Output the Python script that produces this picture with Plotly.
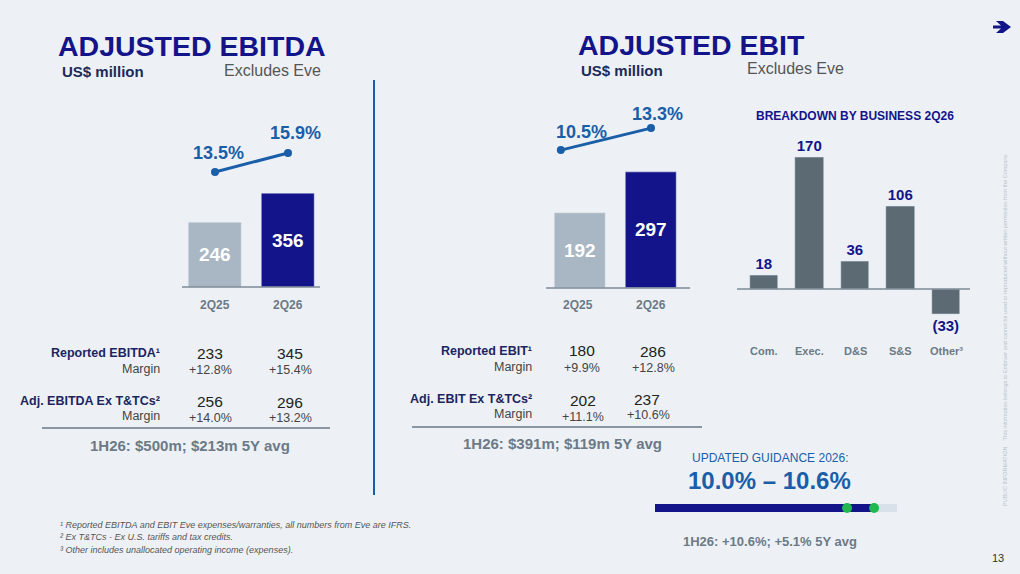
import plotly.graph_objects as go

W, H = 1020, 574
NAVY = "#14148a"; BLUE = "#1a5ea8"; GRAY = "#6b7a86"; LIGHT = "#a9b6c3"; BG = "#edf1f6"; LBL = "#1c2560"

quarters = ["2Q25", "2Q26"]
ebitda = [246, 356]
ebitda_margin = [13.5, 15.9]
ebit = [192, 297]
ebit_margin = [10.5, 13.3]
biz = ["Com.", "Exec.", "D&S", "S&S", "Other³"]
biz_vals = [18, 170, 36, 106, -33]
guid_low, guid_high, h1_26 = 10.0, 10.6, 10.6

def px(x): return x / W
def py(y): return 1 - y / H

fig = go.Figure()
fig.add_bar(x=[0, 1], y=ebitda, width=0.73, marker_color=[LIGHT, NAVY], text=[f"<b>{v}</b>" for v in ebitda],
            textposition="inside", insidetextanchor="middle",
            textfont=dict(color="white", size=19, family="Liberation Sans"), xaxis="x", yaxis="y")
fig.add_scatter(x=[0, 1], y=ebitda_margin, mode="lines+markers", line=dict(color=BLUE, width=3),
                marker=dict(size=8, color=BLUE), xaxis="x2", yaxis="y2")
fig.add_bar(x=[0, 1], y=ebit, width=0.73, marker_color=[LIGHT, NAVY], text=[f"<b>{v}</b>" for v in ebit],
            textposition="inside", insidetextanchor="middle",
            textfont=dict(color="white", size=19, family="Liberation Sans"), xaxis="x3", yaxis="y3")
fig.add_scatter(x=[-0.27, 1], y=ebit_margin, mode="lines+markers", line=dict(color=BLUE, width=3),
                marker=dict(size=8, color=BLUE), xaxis="x4", yaxis="y4")
fig.add_bar(x=list(range(5)), y=biz_vals, width=0.62, marker_color="#5b6a73",
            text=[f"<b>({-v})</b>" if v < 0 else f"<b>{v}</b>" for v in biz_vals], textposition="outside",
            cliponaxis=False, textfont=dict(color=NAVY, size=15, family="Liberation Sans"),
            xaxis="x5", yaxis="y5")
fig.add_scatter(x=[5.73, 11.11], y=[0, 0], mode="lines", line=dict(color="#d8e0ea", width=8), xaxis="x6", yaxis="y6")
fig.add_scatter(x=[5.73, h1_26], y=[0, 0], mode="lines", line=dict(color=NAVY, width=8), xaxis="x6", yaxis="y6")
fig.add_scatter(x=[guid_low, guid_high], y=[0, 0], mode="markers", marker=dict(color="#1fb94f", size=10),
                xaxis="x6", yaxis="y6")

ax = dict(visible=False, fixedrange=True)
fig.update_layout(
    width=W, height=H, margin=dict(l=0, r=0, t=0, b=0), showlegend=False,
    paper_bgcolor=BG, plot_bgcolor="rgba(0,0,0,0)", bargap=0,
    font=dict(family="Liberation Sans", color="#333"),
    xaxis=dict(domain=[px(178.5), px(324.5)], range=[-0.5, 1.5], anchor="y", **ax),
    yaxis=dict(domain=[py(287), py(181.4)], range=[0, 400], anchor="x", **ax),
    xaxis2=dict(domain=[px(178.5), px(324.5)], range=[-0.5, 1.5], anchor="y2", **ax),
    yaxis2=dict(domain=[py(200), py(140)], range=[9.965, 17.54], anchor="x2", **ax),
    xaxis3=dict(domain=[px(544.5), px(686.5)], range=[-0.5, 1.5], anchor="y3", **ax),
    yaxis3=dict(domain=[py(288), py(159.1)], range=[0, 330], anchor="x3", **ax),
    xaxis4=dict(domain=[px(544.5), px(686.5)], range=[-0.5, 1.5], anchor="y4", **ax),
    yaxis4=dict(domain=[py(180), py(110)], range=[6.7, 15.6], anchor="x4", **ax),
    xaxis5=dict(domain=[px(741), px(969)], range=[-0.5, 4.5], anchor="y5", **ax),
    yaxis5=dict(domain=[py(320), py(145.3)], range=[-40, 185], anchor="x5", **ax),
    xaxis6=dict(domain=[px(655), px(897)], range=[5.73, 11.11], anchor="y6", **ax),
    yaxis6=dict(domain=[py(518), py(498)], range=[-1, 1], anchor="x6", **ax),
)

shapes = [
    dict(type="line", xref="paper", yref="paper", x0=px(374), x1=px(374), y0=py(80), y1=py(495), line=dict(color=BLUE, width=2)),
    dict(type="line", xref="paper", yref="paper", x0=px(182), x1=px(320), y0=py(287), y1=py(287), line=dict(color="#7d8a96", width=1.5)),
    dict(type="line", xref="paper", yref="paper", x0=px(546), x1=px(690), y0=py(288), y1=py(288), line=dict(color="#7d8a96", width=1.5)),
    dict(type="line", xref="paper", yref="paper", x0=px(737), x1=px(970), y0=py(289), y1=py(289), line=dict(color="#7d8a96", width=1.5)),
    dict(type="line", xref="paper", yref="paper", x0=px(42), x1=px(330), y0=py(428), y1=py(428), line=dict(color="#8a96a2", width=2)),
    dict(type="line", xref="paper", yref="paper", x0=px(412), x1=px(702), y0=py(427), y1=py(427), line=dict(color="#8a96a2", width=2)),
    dict(type="path", xref="paper", yref="paper",
         path=f"M {px(996)} {py(21)} L {px(1003)} {py(21)} L {px(1011)} {py(27)} L {px(1003)} {py(33)} L {px(996)} {py(33)} L {px(1001)} {py(28.5)} L {px(993)} {py(28.5)} L {px(993)} {py(25.5)} L {px(1001)} {py(25.5)} Z",
         fillcolor=NAVY, line=dict(width=0)),
]
fig.update_layout(shapes=shapes)

def T(x, y, text, size=12, color="#333", bold=False, anchor="center", italic=False, angle=0, family="Liberation Sans"):
    t = f"<b>{text}</b>" if bold else text
    if italic: t = f"<i>{t}</i>"
    fig.add_annotation(x=px(x), y=py(y), xref="paper", yref="paper", text=t, showarrow=False,
                       xanchor=anchor, yanchor="middle", textangle=angle,
                       font=dict(size=size, color=color, family=family))

T(56, 46, "ADJUSTED EBITDA", 28.5, NAVY, True, "left")
T(60, 72, "US$ million", 15, "#1c2a5a", True, "left")
T(222, 70, "Excludes Eve", 16, "#555", False, "left")
T(576, 45, "ADJUSTED EBIT", 28.5, NAVY, True, "left")
T(579, 70, "US$ million", 15, "#1c2a5a", True, "left")
T(745, 68, "Excludes Eve", 16, "#555", False, "left")

T(218, 153, f"{ebitda_margin[0]}%", 18, BLUE, True)
T(295, 133, f"{ebitda_margin[1]}%", 18, BLUE, True)
T(581, 132, f"{ebit_margin[0]}%", 18, BLUE, True)
T(657, 114, f"{ebit_margin[1]}%", 18, BLUE, True)

for xx, q in zip([215, 288], quarters): T(xx, 305, q, 12, GRAY, True)
for xx, q in zip([578, 651], quarters): T(xx, 305, q, 12, GRAY, True)

V = "#222"; M = "#444"
T(162, 353, "Reported EBITDA¹", 12.5, LBL, True, "right"); T(162, 369, "Margin", 12.5, M, False, "right")
T(210, 353, "233", 15.5, V); T(210, 370, "+12.8%", 12.5, M); T(290, 353, "345", 15.5, V); T(290, 370, "+15.4%", 12.5, M)
T(162, 401, "Adj. EBITDA Ex T&TCs²", 12.5, LBL, True, "right"); T(162, 416, "Margin", 12.5, M, False, "right")
T(210, 401, "256", 15.5, V); T(210, 418, "+14.0%", 12.5, M); T(290, 402, "296", 15.5, V); T(290, 418, "+13.2%", 12.5, M)
T(190, 445, "1H26: $500m; $213m 5Y avg", 15, GRAY, True)

T(534, 351, "Reported EBIT¹", 12.5, LBL, True, "right"); T(534, 367, "Margin", 12.5, M, False, "right")
T(582, 350, "180", 15.5, V); T(582, 368, "+9.9%", 12.5, M); T(653, 351, "286", 15.5, V); T(653, 368, "+12.8%", 12.5, M)
T(534, 399, "Adj. EBIT Ex T&TCs²", 12.5, LBL, True, "right"); T(534, 414, "Margin", 12.5, M, False, "right")
T(583, 400, "202", 15.5, V); T(583, 417, "+11.1%", 12.5, M); T(647, 399, "237", 15.5, V); T(648, 415, "+10.6%", 12.5, M)
T(562, 443, "1H26: $391m; $119m 5Y avg", 15, GRAY, True)

T(855, 116, "BREAKDOWN BY BUSINESS 2Q26", 12, NAVY, True)
for i, b in enumerate(biz):
    fig.add_annotation(x=i, y=py(351), xref="x5", yref="paper", text=f"<b>{b}</b>", showarrow=False,
                       font=dict(size=11, color=GRAY, family="Liberation Sans"))

T(770, 458, "UPDATED GUIDANCE 2026:", 12, BLUE)
T(769, 480, f"{guid_low:.1f}% – {guid_high:.1f}%", 24, BLUE, True)
T(770, 541, "1H26: +10.6%; +5.1% 5Y avg", 13, GRAY, True)

T(58, 525, "¹ Reported EBITDA and EBIT Eve expenses/warranties, all numbers from Eve are IFRS.", 9, "#555", False, "left", True)
T(58, 537, "² Ex T&TCs - Ex U.S. tariffs and tax credits.", 9, "#555", False, "left", True)
T(58, 550, "³ Other includes unallocated operating income (expenses).", 9, "#555", False, "left", True)
T(998, 558, "13", 11, "#333")
T(1005, 330, "PUBLIC INFORMATION    This information belongs to Embraer and cannot be used or reproduced without written permission from the Company.",
  5.5, "#b8c2cc", False, "center", False, -90)

fig.write_html("out.html", config={"displayModeBar": False},
               post_script="document.body.style.margin='0';document.body.style.overflow='hidden';")
